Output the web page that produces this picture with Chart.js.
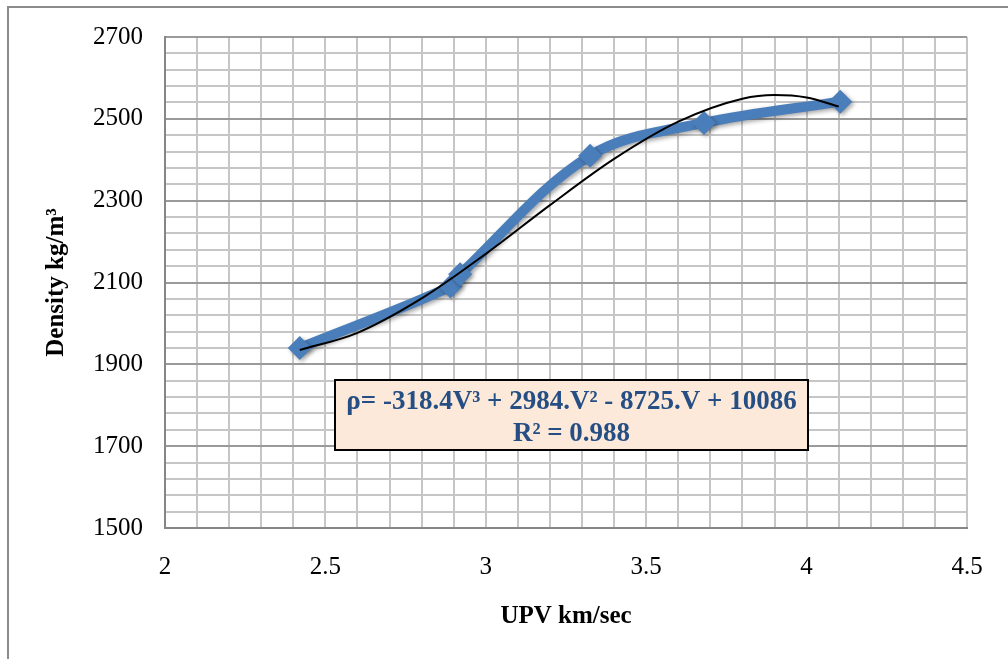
<!DOCTYPE html>
<html>
<head>
<meta charset="utf-8">
<script src="https://cdn.jsdelivr.net/npm/chart.js@4.4.1/dist/chart.umd.min.js"></script>
<style>
  html, body { margin: 0; padding: 0; background: #fff; }
  #wrap { width: 1008px; height: 659px; }
</style>
</head>
<body>
<div id="wrap"><canvas id="densityChart" width="1008" height="659"></canvas></div>
<script>
// measured points (UPV km/sec vs density kg/m3)
const upv = [2.42, 2.89, 2.92, 3.325, 3.68, 4.105];
const density = [1940, 2090, 2120, 2410, 2490, 2542];

// poly trendline
const trendUpv = [2.42, 2.6, 2.8, 3.0, 3.2, 3.4, 3.6, 3.8, 3.9, 4.0, 4.1];
const trendDensity = [1935, 1977, 2061, 2170, 2289, 2402, 2493, 2549, 2558, 2552, 2530];

const xTicks = ["2", "2.5", "3", "3.5", "4", "4.5"];
const yTicks = ["1500", "1700", "1900", "2100", "2300", "2500", "2700"];

const eqLine1 = "ρ= -318.4V³ + 2984.V² - 8725.V + 10086";
const eqLine2 = "R² = 0.988";

const serif = "'Times New Roman', 'Liberation Serif', serif";

const pts = upv.map((v, i) => ({ x: v, y: density[i] }));
const trendPts = trendUpv.map((v, i) => ({ x: v, y: trendDensity[i] }));

const isMajorY = (v) => (Math.round(v) - 1500) % 200 === 0;

// frame + equation box
const extras = {
  id: "extras",
  beforeDraw(chart) {
    const ctx = chart.ctx;
    ctx.save();
    ctx.fillStyle = "#fff";
    ctx.fillRect(0, 0, chart.width, chart.height);
    ctx.strokeStyle = "#8c8c8c";
    ctx.lineWidth = 2;
    ctx.beginPath();
    ctx.moveTo(8, chart.height);
    ctx.lineTo(8, 7);
    ctx.lineTo(chart.width, 7);
    ctx.stroke();
    ctx.restore();
  },
  beforeDatasetDraw(chart, args) {
    if (args.index !== 1) return;
    const ctx = chart.ctx;
    ctx.save();
    ctx.shadowColor = "rgba(0,0,0,0.35)";
    ctx.shadowBlur = 4;
    ctx.shadowOffsetX = 2;
    ctx.shadowOffsetY = 2;
  },
  afterDatasetDraw(chart, args) {
    if (args.index !== 1) return;
    chart.ctx.restore();
  },
  afterDraw(chart) {
    const ctx = chart.ctx;
    ctx.save();
    const bx = 335, by = 380, bw = 473, bh = 70;
    ctx.fillStyle = "#fde9d9";
    ctx.fillRect(bx, by, bw, bh);
    ctx.strokeStyle = "#000";
    ctx.lineWidth = 2;
    ctx.strokeRect(bx, by, bw, bh);
    ctx.fillStyle = "#254f84";
    ctx.font = "bold 27px " + serif;
    ctx.textAlign = "center";
    ctx.textBaseline = "alphabetic";
    ctx.fillText(eqLine1, bx + bw / 2, 409);
    ctx.fillText(eqLine2, bx + bw / 2, 441);
    ctx.restore();
  }
};

new Chart(document.getElementById("densityChart"), {
  type: "scatter",
  data: {
    datasets: [
      {
        label: "Poly.",
        data: trendPts,
        showLine: true,
        borderColor: "#000",
        borderWidth: 2,
        pointRadius: 0,
        cubicInterpolationMode: "monotone",
        order: 0
      },
      {
        label: "Density",
        data: pts,
        showLine: true,
        borderColor: "#4a7ebb",
        backgroundColor: "#4a7ebb",
        borderWidth: 10,
        pointStyle: "rectRot",
        pointRadius: 12,
        pointBorderWidth: 0,
        tension: 0.35,
        order: 1
      }
    ]
  },
  options: {
    responsive: false,
    animation: false,
    layout: { padding: { left: 0, top: 36, right: 41, bottom: 0 } },
    plugins: {
      legend: { display: false },
      tooltip: { enabled: false }
    },
    scales: {
      x: {
        type: "linear",
        min: 2,
        max: 4.5,
        border: { color: "#868686", width: 2 },
        grid: { color: "#c6c6c6", lineWidth: 2, drawTicks: false },
        ticks: {
          stepSize: 0.1,
          autoSkip: false,
          maxRotation: 0,
          padding: 24,
          color: "#000",
          font: { family: serif, size: 25 },
          callback: (v) => {
            const k = Math.round(v * 10);
            return k % 5 === 0 ? xTicks[(k - 20) / 5] : "";
          }
        },
        title: {
          display: true,
          text: "UPV km/sec",
          color: "#000",
          font: { family: serif, size: 25, weight: "bold" },
          padding: { bottom: 27 }
        },
        afterFit: (s) => { s.height = 131; }
      },
      y: {
        type: "linear",
        min: 1500,
        max: 2700,
        border: { color: "#868686", width: 2 },
        grid: {
          drawTicks: false,
          lineWidth: 2,
          color: (c) => (isMajorY(c.tick.value) ? "#9a9a9a" : "#c6c6c6")
        },
        ticks: {
          stepSize: 40,
          autoSkip: false,
          padding: 22,
          color: "#000",
          font: { family: serif, size: 25 },
          callback: (v) => (isMajorY(v) ? yTicks[(Math.round(v) - 1500) / 200] : "")
        },
        title: {
          display: true,
          text: "Density kg/m³",
          color: "#000",
          font: { family: serif, size: 25, weight: "bold" },
          padding: { top: 42 }
        },
        afterFit: (s) => { s.width = 165; }
      }
    }
  },
  plugins: [extras]
});
</script>
</body>
</html>
